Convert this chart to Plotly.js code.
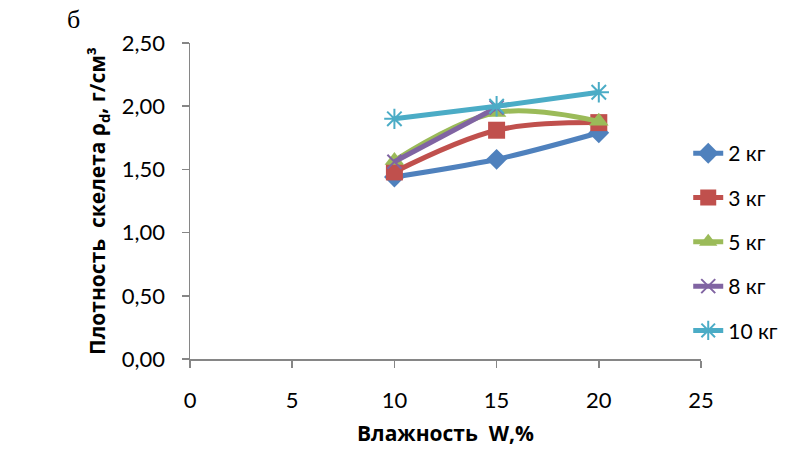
<!DOCTYPE html>
<html>
<head>
<meta charset="utf-8">
<script src="https://cdn.plot.ly/plotly-3.0.1.min.js"></script>
<style>html,body{margin:0;padding:0;background:#fff;}#chart{width:808px;height:450px;}</style>
</head>
<body>
<div id="chart"></div>
<script>
const moisture = [10, 15, 20];
const moisture8 = [10, 15];
const seriesNames = ['2 кг', '3 кг', '5 кг', '8 кг', '10 кг'];
const density2 = [1.44, 1.58, 1.79];
const density3 = [1.48, 1.81, 1.87];
const density5 = [1.57, 1.95, 1.88];
const density8 = [1.56, 1.99];
const density10 = [1.90, 2.00, 2.11];
const xTicks = [0, 5, 10, 15, 20, 25];
const yTicks = [0, 0.5, 1.0, 1.5, 2.0, 2.5];

const colors = ['#4F81BD', '#C0504D', '#9BBB59', '#8064A2', '#4BACC6'];
const symbols = ['diamond', 'square', 'triangle-up', 'x-thin-open', 'asterisk-open'];
const sizes = [16, 17, 17, 14, 17];
const xs = [moisture, moisture, moisture, moisture8, moisture];
const ys = [density2, density3, density5, density8, density10];

const traces = seriesNames.map((n, i) => ({
  x: xs[i], y: ys[i], name: n, type: 'scatter', mode: 'lines+markers',
  legendgroup: 'g' + i,
  line: {color: colors[i], width: 5, shape: 'spline', smoothing: 1},
  marker: {symbol: symbols[i], size: sizes[i], color: colors[i],
           line: {color: colors[i], width: (i >= 3 ? 2 : 0)}}
}));

const fontFam = 'Lato, "Open Sans", sans-serif';
const titleFam = '"Open Sans", Lato, sans-serif';
const layout = {
  width: 808, height: 450,
  margin: {l: 190, r: 107, t: 43, b: 91},
  paper_bgcolor: '#fff', plot_bgcolor: '#fff',
  separators: ', ',
  font: {family: fontFam, size: 22, color: '#000'},
  showlegend: true,
  legend: {x: 0.975, xanchor: 'left', y: 0.37, yanchor: 'middle',
           font: {family: fontFam, size: 21, color: '#000'},
           tracegroupgap: 14, bgcolor: 'rgba(0,0,0,0)'},
  xaxis: {range: [0, 25], tickvals: xTicks, ticktext: xTicks.map(String),
          showgrid: false, zeroline: false, showline: true, linecolor: '#868686', linewidth: 1.5,
          ticks: 'outside', ticklen: 7, tickcolor: '#868686', tickwidth: 1.5,
          ticklabelstandoff: 14,
          tickfont: {family: fontFam, size: 22},
          title: {text: '<b>Влажность  W,%</b>', font: {family: titleFam, size: 21}, standoff: 14}},
  yaxis: {range: [0, 2.5], tickvals: yTicks, tickformat: '.2f',
          showgrid: false, zeroline: false, showline: true, linecolor: '#868686', linewidth: 1.5,
          ticks: 'outside', ticklen: 7, tickcolor: '#868686', tickwidth: 1.5,
          ticklabelstandoff: 12,
          tickfont: {family: fontFam, size: 22},
          title: {text: '<b>Плотность  скелета ρ<sub>d</sub>, г/см³</b>', font: {family: titleFam, size: 21}, standoff: 10}},
  annotations: [{text: 'б', xref: 'paper', yref: 'paper', x: -0.228, y: 1.075,
                 xanchor: 'center', yanchor: 'middle', showarrow: false,
                 font: {family: '"Liberation Serif", "DejaVu Serif", serif', size: 26, color: '#000'}}]
};
Plotly.newPlot('chart', traces, layout, {displayModeBar: false, staticPlot: true});
</script>
</body>
</html>
